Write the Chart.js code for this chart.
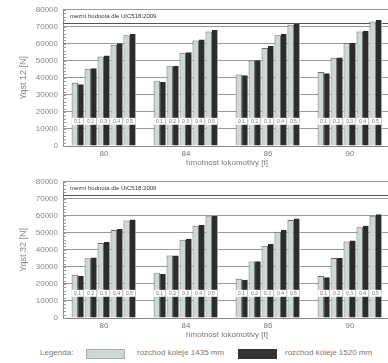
<!DOCTYPE html>
<html><head><meta charset="utf-8">
<script src="https://cdn.jsdelivr.net/npm/chart.js@4.4.1/dist/chart.umd.min.js"></script>
<style>
html,body{margin:0;padding:0;background:#fff;}
#wrap{position:relative;width:388px;height:363px;overflow:hidden;background:#fff;font-family:"Liberation Sans",Arial,sans-serif;}
.cv{position:absolute;left:0;width:396px;height:172px;}
#c1{top:0;}
#c2{top:172px;}
.lg{position:absolute;font-size:8px;color:#777;line-height:10px;white-space:nowrap;}
.box{position:absolute;height:8px;width:37px;}
</style></head><body>
<div id="wrap">
<div class="cv" id="c1"><canvas id="ch1" width="396" height="172"></canvas></div>
<div class="cv" id="c2"><canvas id="ch2" width="396" height="172"></canvas></div>
<div class="lg" style="left:40px;top:348px;">Legenda:</div>
<div class="box" style="left:86px;top:349px;background:#cdd7d3;border:1px solid #aaa;"></div>
<div class="lg" style="left:137px;top:348px;">rozchod koleje 1435 mm</div>
<div class="box" style="left:238px;top:349px;background:#353535;border:1px solid #333;"></div>
<div class="lg" style="left:285px;top:348px;">rozchod koleje 1520 mm</div>
</div>
<script>
const categories = ['80','84','86','90'];
const ratios = ['0.1','0.2','0.3','0.4','0.5'];
const yTicks = [0,10000,20000,30000,40000,50000,60000,70000,80000];
const limitValue = 72200;
const limitText = 'mezní hodnota dle UIC518:2009';
const labelValue = 14500;

// Yqst 12 [N], rows = ratio 0.1..0.5, columns = categories
const top1435 = [
  [37200, 38000, 42000, 43400],
  [45400, 46900, 50200, 51800],
  [52500, 54700, 57600, 60300],
  [59400, 61900, 65000, 67200],
  [65000, 67300, 71200, 73200]
];
const top1520 = [
  [36200, 37600, 41500, 42800],
  [45600, 47000, 50400, 52000],
  [53100, 55100, 58800, 60700],
  [60300, 62500, 65800, 67700],
  [65800, 68100, 71700, 74000]
];
// Yqst 32 [N]
const bot1435 = [
  [25400, 26300, 23000, 24600],
  [35100, 36700, 33200, 35300],
  [44100, 45900, 42500, 44900],
  [51700, 54200, 50700, 53300],
  [57200, 59700, 57600, 60100]
];
const bot1520 = [
  [24600, 25800, 22400, 24000],
  [35500, 36700, 33300, 35300],
  [44700, 46400, 43500, 45500],
  [52300, 54600, 51700, 54200],
  [57900, 60100, 58500, 60900]
];

const LIGHT = '#cdd7d3', DARK = '#2c2c2c';
const FONT = '"Liberation Sans", Arial, sans-serif';

function buildDatasets(a, b) {
  const ds = [];
  ratios.forEach((r, i) => {
    ds.push({label: '1435 ' + r, data: a[i], backgroundColor: LIGHT, borderColor: '#6a6a6a',
      borderWidth: {left:1, right:1, top:1, bottom:0}, borderSkipped: false});
    ds.push({label: '1520 ' + r, data: b[i], backgroundColor: DARK, borderColor: '#ffffff',
      borderWidth: {left:0, right:1, top:0, bottom:0}, borderSkipped: false});
  });
  return ds;
}

const overlay = {
  id: 'overlay',
  beforeDatasetsDraw(chart) {
    const {ctx, chartArea: ca, scales: {y}} = chart;
    ctx.save();
    ctx.strokeStyle = '#999';
    ctx.lineWidth = 1;
    for (let v = 0; v <= 80000; v += 2000) {
      const py = Math.round(y.getPixelForValue(v)) + 0.5;
      ctx.beginPath(); ctx.moveTo(ca.left, py); ctx.lineTo(ca.left + 3, py); ctx.stroke();
    }
    const ly = Math.round(y.getPixelForValue(limitValue)) + 0.5;
    ctx.strokeStyle = '#555';
    ctx.beginPath(); ctx.moveTo(ca.left, ly); ctx.lineTo(ca.right, ly); ctx.stroke();
    ctx.fillStyle = '#333';
    ctx.font = '6px ' + FONT;
    ctx.textBaseline = 'middle';
    ctx.textAlign = 'left';
    ctx.fillText(limitText, ca.left + 7, (ca.top + ly) / 2);
    ctx.restore();
  },
  afterDatasetsDraw(chart) {
    const {ctx, scales: {y}} = chart;
    const cy = y.getPixelForValue(labelValue);
    ctx.save();
    ctx.font = '5px ' + FONT;
    ctx.textAlign = 'center';
    ctx.textBaseline = 'middle';
    for (let p = 0; p < ratios.length; p++) {
      const m1 = chart.getDatasetMeta(2 * p), m2 = chart.getDatasetMeta(2 * p + 1);
      for (let i = 0; i < categories.length; i++) {
        const e1 = m1.data[i], e2 = m2.data[i];
        const x0 = e1.x - e1.width / 2, x1 = e2.x + e2.width / 2 - 1;
        ctx.fillStyle = '#fff';
        ctx.fillRect(x0, cy - 3.5, x1 - x0, 7);
        ctx.fillStyle = '#777';
        ctx.fillText(ratios[p], (x0 + x1) / 2, cy);
      }
    }
    ctx.restore();
  }
};

function makeChart(id, a, b, yTitle) {
  return new Chart(document.getElementById(id), {
    type: 'bar',
    data: {labels: categories, datasets: buildDatasets(a, b)},
    plugins: [overlay],
    options: {
      responsive: false, animation: false,
      layout: {padding: {top: 9, right: 5, left: 0, bottom: 4}},
      plugins: {legend: {display: false}, tooltip: {enabled: false}},
      datasets: {bar: {categoryPercentage: 0.79, barPercentage: 1.0}},
      scales: {
        x: {
          grid: {display: false, drawTicks: false, tickLength: 0},
          border: {color: '#888'},
          ticks: {color: '#777', font: {size: 8, family: FONT}, padding: 3},
          title: {display: true, text: 'hmotnost lokomotivy [t]', color: '#777',
            font: {size: 8, family: FONT}, padding: {top: 0, bottom: 0}},
          afterFit(s) { s.height = 22; }
        },
        y: {
          min: 0, max: 80000,
          afterBuildTicks(s) { s.ticks = yTicks.map(v => ({value: v})); },
          grid: {color: '#999', drawTicks: false},
          border: {color: '#888'},
          ticks: {color: '#888', font: {size: 8, family: FONT}, padding: 5,
            callback: v => String(v)},
          title: {display: true, text: yTitle, color: '#888',
            font: {size: 9, family: FONT}, padding: {top: 18, bottom: 0}},
          afterFit(s) { s.width = 63; }
        }
      }
    }
  });
}

makeChart('ch1', top1435, top1520, 'Yqst 12 [N]');
makeChart('ch2', bot1435, bot1520, 'Yqst 32 [N]');
</script>
</body></html>
